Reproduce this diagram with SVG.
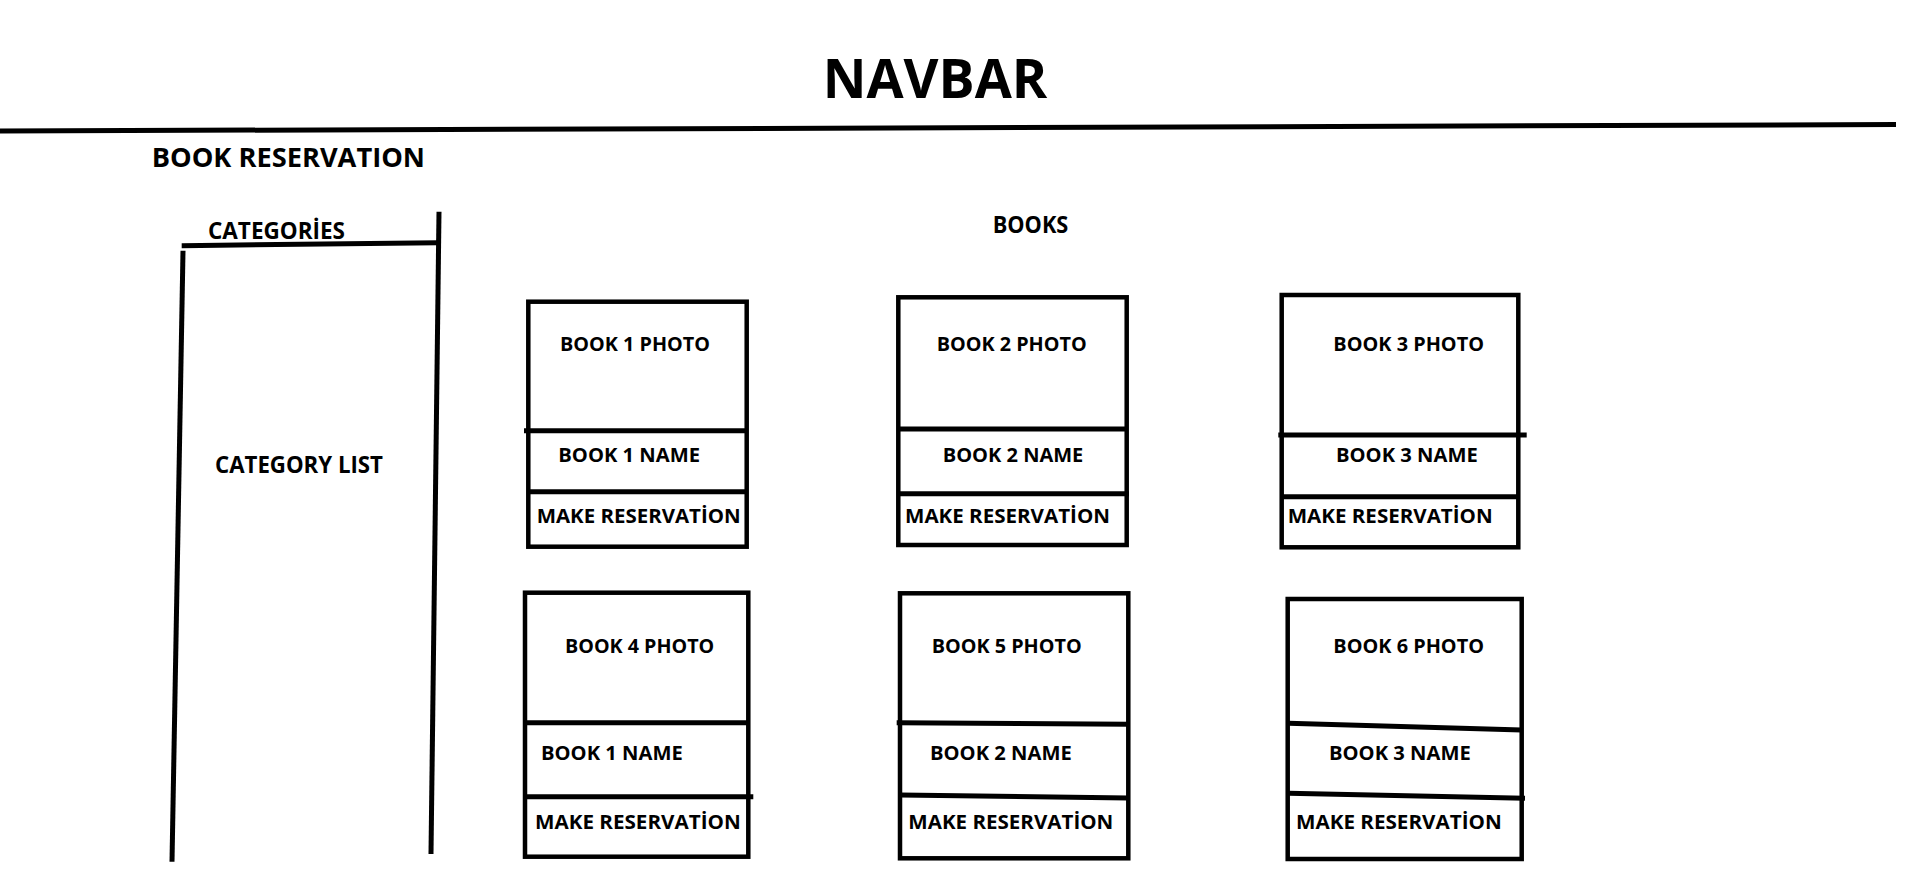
<svg xmlns="http://www.w3.org/2000/svg" width="1914" height="872" viewBox="0 0 1914 872">
<style>
  .ln { stroke:#000; stroke-width:5; fill:none; stroke-linecap:butt; }
  .box { stroke:#000; stroke-width:4.5; fill:none; }
  .t { font-family:"Open Sans","Liberation Sans",sans-serif; font-weight:700; fill:#000; }
  .c { font-size:20px; }
</style>
<rect width="1914" height="872" fill="#fff"/>
<g id="header">
  <text class="t" x="822.7" y="98.3" font-size="54.6" textLength="224.6" lengthAdjust="spacingAndGlyphs">NAVBAR</text>
  <path class="ln" d="M0 131 L1896 124.5"/>
  <text class="t" x="151.7" y="166.7" font-size="26.6" textLength="273.3" lengthAdjust="spacingAndGlyphs">BOOK RESERVATION</text>
  <text class="t" x="992.7" y="233.3" font-size="22.4" textLength="75.6" lengthAdjust="spacingAndGlyphs">BOOKS</text>
</g>
<g id="categories">
  <text class="t" x="208" y="239" font-size="24" textLength="137" lengthAdjust="spacingAndGlyphs">CATEGORİES</text>
  <path class="ln" d="M181.7 245.7 L438 242.7"/>
  <path class="ln" d="M439 211.7 L431 854"/>
  <path class="ln" d="M183 250.7 L172 861.7"/>
  <text class="t" x="215" y="473" font-size="24" textLength="168" lengthAdjust="spacingAndGlyphs">CATEGORY LIST</text>
</g>
<g id="book1">
  <rect class="box" x="528.3" y="301.7" width="218.4" height="245"/>
  <path class="ln" d="M524 430.7 L746.7 430.7"/>
  <path class="ln" d="M528.3 491.7 L746.7 491.7"/>
  <text class="t c" x="560" y="351" textLength="150" lengthAdjust="spacingAndGlyphs">BOOK 1 PHOTO</text>
  <text class="t c" x="558.3" y="461.7" textLength="141.7" lengthAdjust="spacingAndGlyphs">BOOK 1 NAME</text>
  <text class="t c" x="536.7" y="523.3" textLength="204" lengthAdjust="spacingAndGlyphs">MAKE RESERVATİON</text>
</g>
<g id="book2">
  <rect class="box" x="898.3" y="297.3" width="228.4" height="247.7"/>
  <path class="ln" d="M898.3 429 L1126.7 429"/>
  <path class="ln" d="M898.3 493.7 L1129 493.7"/>
  <text class="t c" x="936.7" y="351" textLength="150" lengthAdjust="spacingAndGlyphs">BOOK 2 PHOTO</text>
  <text class="t c" x="942.7" y="461.7" textLength="140.6" lengthAdjust="spacingAndGlyphs">BOOK 2 NAME</text>
  <text class="t c" x="905" y="522.7" textLength="205" lengthAdjust="spacingAndGlyphs">MAKE RESERVATİON</text>
</g>
<g id="book3">
  <rect class="box" x="1281.7" y="295" width="236.6" height="252.3"/>
  <path class="ln" d="M1278.3 435 L1526.7 435"/>
  <path class="ln" d="M1281.7 496.7 L1518.3 496.7"/>
  <text class="t c" x="1333.3" y="351" textLength="150.7" lengthAdjust="spacingAndGlyphs">BOOK 3 PHOTO</text>
  <text class="t c" x="1336" y="461.7" textLength="141.7" lengthAdjust="spacingAndGlyphs">BOOK 3 NAME</text>
  <text class="t c" x="1287.7" y="523.3" textLength="205" lengthAdjust="spacingAndGlyphs">MAKE RESERVATİON</text>
</g>
<g id="book4">
  <rect class="box" x="525" y="592.7" width="223.3" height="264"/>
  <path class="ln" d="M525 722.7 L748.3 722.7"/>
  <path class="ln" d="M525 796.7 L753.3 796.7"/>
  <text class="t c" x="565" y="653.3" textLength="149.3" lengthAdjust="spacingAndGlyphs">BOOK 4 PHOTO</text>
  <text class="t c" x="541" y="760" textLength="141.7" lengthAdjust="spacingAndGlyphs">BOOK 1 NAME</text>
  <text class="t c" x="535" y="829.3" textLength="205.7" lengthAdjust="spacingAndGlyphs">MAKE RESERVATİON</text>
</g>
<g id="book5">
  <rect class="box" x="900" y="593.3" width="228.3" height="265"/>
  <path class="ln" d="M896.7 722.7 L1128.3 724.3"/>
  <path class="ln" d="M900 795 L1128.3 798"/>
  <text class="t c" x="931.7" y="653.3" textLength="150" lengthAdjust="spacingAndGlyphs">BOOK 5 PHOTO</text>
  <text class="t c" x="930" y="760" textLength="141.7" lengthAdjust="spacingAndGlyphs">BOOK 2 NAME</text>
  <text class="t c" x="908.3" y="829.3" textLength="205" lengthAdjust="spacingAndGlyphs">MAKE RESERVATİON</text>
</g>
<g id="book6">
  <rect class="box" x="1287.7" y="599" width="234" height="260"/>
  <path class="ln" d="M1288.3 723.3 L1521.7 730"/>
  <path class="ln" d="M1288.3 793.3 L1525 798.3"/>
  <text class="t c" x="1333.3" y="653.3" textLength="150.7" lengthAdjust="spacingAndGlyphs">BOOK 6 PHOTO</text>
  <text class="t c" x="1329" y="760" textLength="141.7" lengthAdjust="spacingAndGlyphs">BOOK 3 NAME</text>
  <text class="t c" x="1296" y="829.3" textLength="205.7" lengthAdjust="spacingAndGlyphs">MAKE RESERVATİON</text>
</g>
<g id="connectors"></g>
</svg>
